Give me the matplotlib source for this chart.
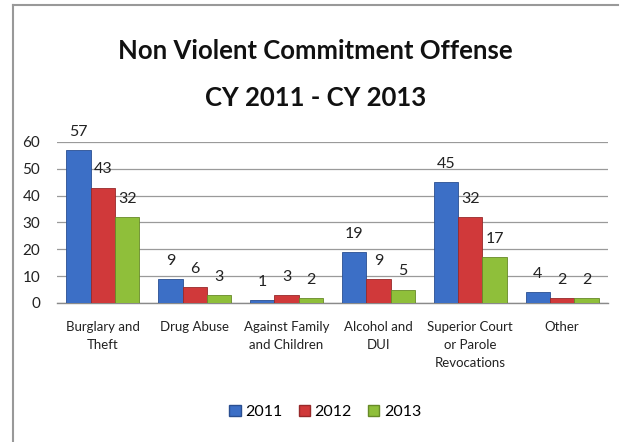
import matplotlib
matplotlib.use("Agg")
import matplotlib.pyplot as plt
import numpy as np
from matplotlib.lines import Line2D
from matplotlib.patches import Patch

plt.rcParams['font.family'] = ['Lato', 'DejaVu Sans']

categories = ["Burglary and\nTheft", "Drug Abuse", "Against Family\nand Children",
              "Alcohol and\nDUI", "Superior Court\nor Parole\nRevocations", "Other"]
years = ["2011", "2012", "2013"]
v2011 = [57, 9, 1, 19, 45, 4]
v2012 = [43, 6, 3, 9, 32, 2]
v2013 = [32, 3, 2, 5, 17, 2]
yticks = [0, 10, 20, 30, 40, 50, 60]

colors = ["#3c6fc6", "#d0393a", "#8fbf3a"]
edges = ["#2a4f91", "#98292a", "#678a28"]

fig = plt.figure(figsize=(6.23, 4.42), dpi=100)
ax = fig.add_axes([0.0915, 0.3145, 0.8845, 0.3643])

x = np.arange(len(categories))
w = 0.265
series = [v2011, v2012, v2013]
for i, (vals, c, e, yr) in enumerate(zip(series, colors, edges, years)):
    pos = x + (i - 1) * w
    ax.bar(pos, vals, width=w, color=c, edgecolor=e, linewidth=0.6, zorder=3, label=yr)
    for p, v in zip(pos, vals):
        ax.annotate(str(v), (p, v), xytext=(0, 8), textcoords="offset points",
                    ha="center", va="bottom", fontsize=11.5, color="#222222")

ax.set_xlim(-0.5, len(categories) - 0.5)
ax.set_ylim(0, 60)
ax.set_yticks(yticks)
ax.set_yticklabels([str(t) for t in yticks], fontsize=11, color="#222222")
ax.set_xticks(x)
ax.set_xticklabels(categories, fontsize=9.5, color="#222222", linespacing=1.6)
ax.tick_params(axis='y', length=0, pad=12)
ax.tick_params(axis='x', length=0, pad=13)
ax.grid(axis='y', color="#9a9a9a", linewidth=0.9, zorder=0)
for s in ['left', 'right', 'top']:
    ax.spines[s].set_visible(False)
ax.spines['bottom'].set_color("#8a8a8a")
ax.spines['bottom'].set_linewidth(1.0)

fig.text(0.506, 0.885, "Non Violent Commitment Offense", ha="center", va="center",
         fontsize=18.5, fontweight="bold", color="#111111")
fig.text(0.506, 0.778, "CY 2011 - CY 2013", ha="center", va="center",
         fontsize=18.5, fontweight="bold", color="#111111")

handles = [Patch(facecolor=c, edgecolor=e) for c, e in zip(colors, edges)]
fig.legend(handles, years, loc="center", bbox_to_anchor=(0.522, 0.068), ncol=3,
           frameon=False, fontsize=11.5, handlelength=0.7, handleheight=0.7,
           handletextpad=0.3, columnspacing=1.0)

fig.add_artist(Line2D([13/623, 13/623], [0, 1 - 5/442], color="#999999", linewidth=1.5))
fig.add_artist(Line2D([13/623, 618/623], [1 - 5/442, 1 - 5/442], color="#999999", linewidth=1.5))

fig.savefig("out.png", dpi=100)
